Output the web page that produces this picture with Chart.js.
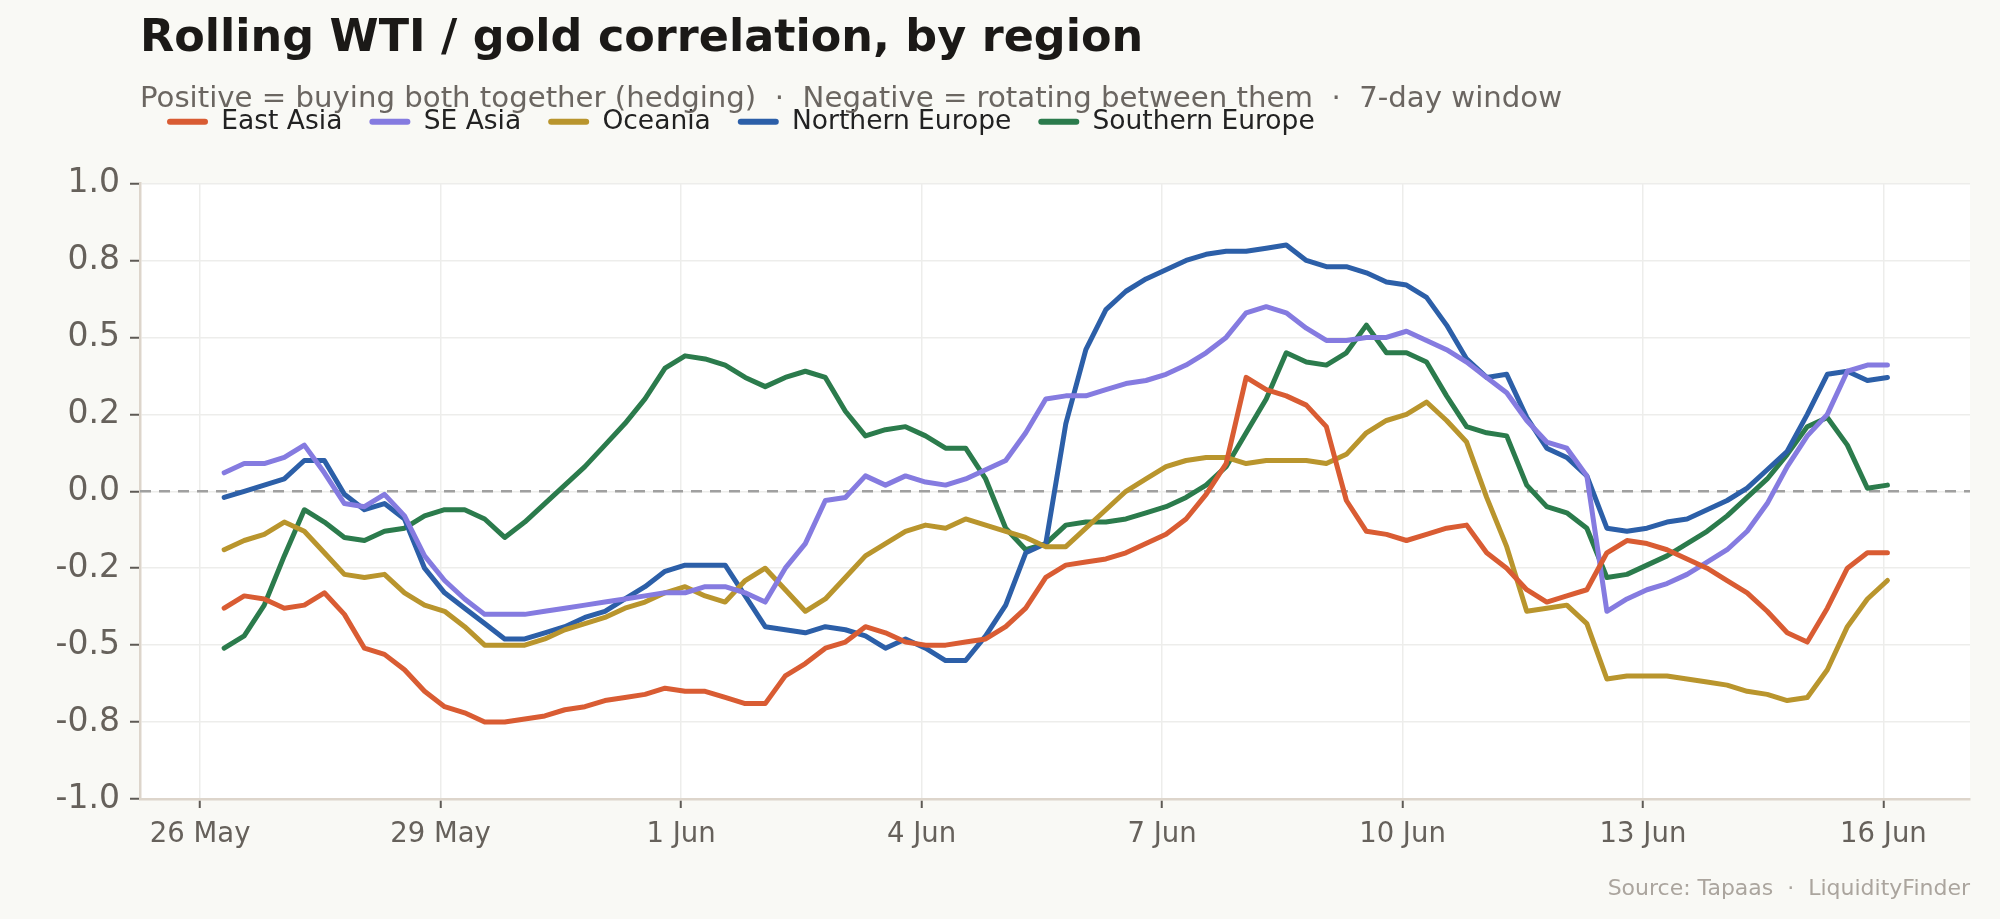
<!DOCTYPE html>
<html>
<head>
<meta charset="utf-8">
<title>Rolling WTI / gold correlation, by region</title>
<script src="https://cdn.jsdelivr.net/npm/chart.js@4.4.1/dist/chart.umd.min.js"></script>
<style>
html,body{margin:0;padding:0;background:#f9f9f5;overflow:hidden;}
canvas{display:block;}
</style>
</head>
<body>
<canvas id="corr" width="2000" height="919"></canvas>
<script>
// days counted from 26 May, one sample every 6 hours
const firstSample = 0.3;
const sampleStep = 0.25;

const regions = ['East Asia', 'SE Asia', 'Oceania', 'Northern Europe', 'Southern Europe'];
const regionColors = ['#d95c33', '#857be0', '#b9952d', '#2c5fa8', '#2b7b4c'];

const eastAsia = [-0.38,-0.34,-0.35,-0.38,-0.37,-0.33,-0.40,-0.51,-0.53,-0.58,
-0.65,-0.70,-0.72,-0.75,-0.75,-0.74,-0.73,-0.71,-0.70,-0.68,
-0.67,-0.66,-0.64,-0.65,-0.65,-0.67,-0.69,-0.69,-0.60,-0.56,
-0.51,-0.49,-0.44,-0.46,-0.49,-0.50,-0.50,-0.49,-0.48,-0.44,
-0.38,-0.28,-0.24,-0.23,-0.22,-0.20,-0.17,-0.14,-0.09,-0.01,
0.09,0.37,0.33,0.31,0.28,0.21,-0.03,-0.13,-0.14,-0.16,
-0.14,-0.12,-0.11,-0.20,-0.25,-0.32,-0.36,-0.34,-0.32,-0.20,
-0.16,-0.17,-0.19,-0.22,-0.25,-0.29,-0.33,-0.39,-0.46,-0.49,
-0.38,-0.25,-0.20,-0.20];

const seAsia = [0.06,0.09,0.09,0.11,0.15,0.06,-0.04,-0.05,-0.01,-0.08,
-0.21,-0.29,-0.35,-0.40,-0.40,-0.40,-0.39,-0.38,-0.37,-0.36,
-0.35,-0.34,-0.33,-0.33,-0.31,-0.31,-0.33,-0.36,-0.25,-0.17,
-0.03,-0.02,0.05,0.02,0.05,0.03,0.02,0.04,0.07,0.10,
0.19,0.30,0.31,0.31,0.33,0.35,0.36,0.38,0.41,0.45,
0.50,0.58,0.60,0.58,0.53,0.49,0.49,0.50,0.50,0.52,
0.49,0.46,0.42,0.37,0.32,0.23,0.16,0.14,0.05,-0.39,
-0.35,-0.32,-0.30,-0.27,-0.23,-0.19,-0.13,-0.04,0.08,0.18,
0.25,0.39,0.41,0.41];

const oceania = [-0.19,-0.16,-0.14,-0.10,-0.13,-0.20,-0.27,-0.28,-0.27,-0.33,
-0.37,-0.39,-0.44,-0.50,-0.50,-0.50,-0.48,-0.45,-0.43,-0.41,
-0.38,-0.36,-0.33,-0.31,-0.34,-0.36,-0.29,-0.25,-0.32,-0.39,
-0.35,-0.28,-0.21,-0.17,-0.13,-0.11,-0.12,-0.09,-0.11,-0.13,
-0.15,-0.18,-0.18,-0.12,-0.06,0.00,0.04,0.08,0.10,0.11,
0.11,0.09,0.10,0.10,0.10,0.09,0.12,0.19,0.23,0.25,
0.29,0.23,0.16,-0.02,-0.18,-0.39,-0.38,-0.37,-0.43,-0.61,
-0.60,-0.60,-0.60,-0.61,-0.62,-0.63,-0.65,-0.66,-0.68,-0.67,
-0.58,-0.44,-0.35,-0.29];

const northernEurope = [-0.02,0.00,0.02,0.04,0.10,0.10,-0.01,-0.06,-0.04,-0.09,
-0.25,-0.33,-0.38,-0.43,-0.48,-0.48,-0.46,-0.44,-0.41,-0.39,
-0.35,-0.31,-0.26,-0.24,-0.24,-0.24,-0.34,-0.44,-0.45,-0.46,
-0.44,-0.45,-0.47,-0.51,-0.48,-0.51,-0.55,-0.55,-0.47,-0.37,
-0.20,-0.17,0.22,0.46,0.59,0.65,0.69,0.72,0.75,0.77,
0.78,0.78,0.79,0.80,0.75,0.73,0.73,0.71,0.68,0.67,
0.63,0.54,0.43,0.37,0.38,0.24,0.14,0.11,0.05,-0.12,
-0.13,-0.12,-0.10,-0.09,-0.06,-0.03,0.01,0.07,0.13,0.25,
0.38,0.39,0.36,0.37];

const southernEurope = [-0.51,-0.47,-0.37,-0.21,-0.06,-0.10,-0.15,-0.16,-0.13,-0.12,
-0.08,-0.06,-0.06,-0.09,-0.15,-0.10,-0.04,0.02,0.08,0.15,
0.22,0.30,0.40,0.44,0.43,0.41,0.37,0.34,0.37,0.39,
0.37,0.26,0.18,0.20,0.21,0.18,0.14,0.14,0.04,-0.12,
-0.19,-0.17,-0.11,-0.10,-0.10,-0.09,-0.07,-0.05,-0.02,0.02,
0.08,0.19,0.30,0.45,0.42,0.41,0.45,0.54,0.45,0.45,
0.42,0.31,0.21,0.19,0.18,0.02,-0.05,-0.07,-0.12,-0.28,
-0.27,-0.24,-0.21,-0.17,-0.13,-0.08,-0.02,0.04,0.12,0.21,
0.24,0.15,0.01,0.02];

const xTickDays = [0, 3, 6, 9, 12, 15, 18, 21];
const xTickLabels = ['26 May', '29 May', '1 Jun', '4 Jun', '7 Jun', '10 Jun', '13 Jun', '16 Jun'];
const yTickValues = [-1, -0.75, -0.5, -0.25, 0, 0.25, 0.5, 0.75, 1];
const yTickLabels = ['-1.0', '-0.8', '-0.5', '-0.2', '0.0', '0.2', '0.5', '0.8', '1.0'];

const xMin = -0.75, xMax = 22.08;

Chart.defaults.font.family = '"DejaVu Sans", sans-serif';
Chart.defaults.color = '#66615b';

var seriesList = [eastAsia, seAsia, oceania, northernEurope, southernEurope];

var datasets = seriesList.map((values, k) => ({
label: regions[k],
data: values.map((v, i) => ({x: firstSample + i * sampleStep, y: v})),
borderColor: regionColors[k],
backgroundColor: regionColors[k],
borderWidth: 5,
borderCapStyle: 'round',
borderJoinStyle: 'round',
pointRadius: 0,
tension: 0,
order: 0
}));

// dashed zero reference
datasets.push({
label: '',
data: [{x: xMin, y: 0}, {x: xMax, y: 0}],
borderColor: '#a0a0a0',
borderWidth: 2.5,
borderDash: [11, 8],
pointRadius: 0,
order: 1
});

const paperBg = {
id: 'paperBg',
beforeDraw(chart) {
const {ctx, chartArea} = chart;
ctx.save();
ctx.fillStyle = '#f9f9f5';
ctx.fillRect(0, 0, chart.width, chart.height);
ctx.fillStyle = '#ffffff';
ctx.fillRect(chartArea.left, chartArea.top, chartArea.right - chartArea.left, chartArea.bottom - chartArea.top);
ctx.restore();
}
};

const sourceNote = {
id: 'sourceNote',
afterDraw(chart) {
const ctx = chart.ctx;
ctx.save();
ctx.font = '22px "DejaVu Sans", sans-serif';
ctx.fillStyle = '#aba59e';
ctx.textAlign = 'right';
ctx.textBaseline = 'middle';
ctx.fillText('Source: Tapaas  \u00b7  LiquidityFinder', chart.chartArea.right, 889);
ctx.restore();
}
};

new Chart(document.getElementById('corr'), {
type: 'line',
data: {datasets},
plugins: [paperBg, sourceNote],
options: {
responsive: false,
animation: false,
devicePixelRatio: 1,
events: [],
layout: {padding: {left: 0, right: 30, top: 0, bottom: 0}},
plugins: {
tooltip: {enabled: false},
title: {
display: true,
text: 'Rolling WTI / gold correlation, by region',
align: 'start',
fullSize: false,
color: '#1b1917',
font: {size: 44.5, weight: 'bold'},
padding: {top: 12.5, bottom: 15.5}
},
// legend sits between title and subtitle in the box stack, subtitle is pulled back up
legend: {
display: true,
position: 'top',
align: 'start',
fullSize: false,
weight: 1600,
labels: {
color: '#222222',
font: {size: 26.5},
boxWidth: 41,
boxHeight: 6,
padding: 27,
useBorderRadius: true,
borderRadius: 3,
filter: item => item.text !== '',
generateLabels: function(chart) {
var items = Chart.defaults.plugins.legend.labels.generateLabels(chart);
items.forEach(item => {
item.lineWidth = 0;
item.fillStyle = item.strokeStyle;
});
return items;
}
}
},
subtitle: {
display: true,
text: 'Positive = buying both together (hedging)  \u00b7  Negative = rotating between them  \u00b7  7-day window',
align: 'start',
fullSize: false,
color: '#6b6661',
font: {size: 29.2},
padding: {top: -62.7, bottom: 66.3}
}
},
scales: {
x: {
type: 'linear',
min: xMin,
max: xMax,
afterFit: function(scale) { scale.height = 120; },
afterBuildTicks: function(scale) {
scale.ticks = xTickDays.map(v => ({value: v}));
},
ticks: {
font: {size: 27.5},
color: '#66615b',
padding: 10,
maxRotation: 0,
callback: function(value, index) { return xTickLabels[index]; }
},
grid: {
color: '#ededeb',
lineWidth: 1.5,
drawTicks: true,
tickLength: 9,
tickColor: '#5e5a55',
tickWidth: 2
},
border: {display: true, color: '#ddd5cb', width: 2.5}
},
y: {
type: 'linear',
min: -1,
max: 1,
afterFit: function(scale) { scale.width = 140; },
afterBuildTicks: function(scale) {
scale.ticks = yTickValues.map(v => ({value: v}));
},
ticks: {
font: {size: 33},
color: '#66615b',
padding: 10,
callback: function(value, index) { return yTickLabels[index]; }
},
grid: {
color: '#ededeb',
lineWidth: 1.5,
drawTicks: true,
tickLength: 10,
tickColor: '#5e5a55',
tickWidth: 2
},
border: {display: true, color: '#ddd5cb', width: 2.5}
}
}
}
});
</script>
</body>
</html>
